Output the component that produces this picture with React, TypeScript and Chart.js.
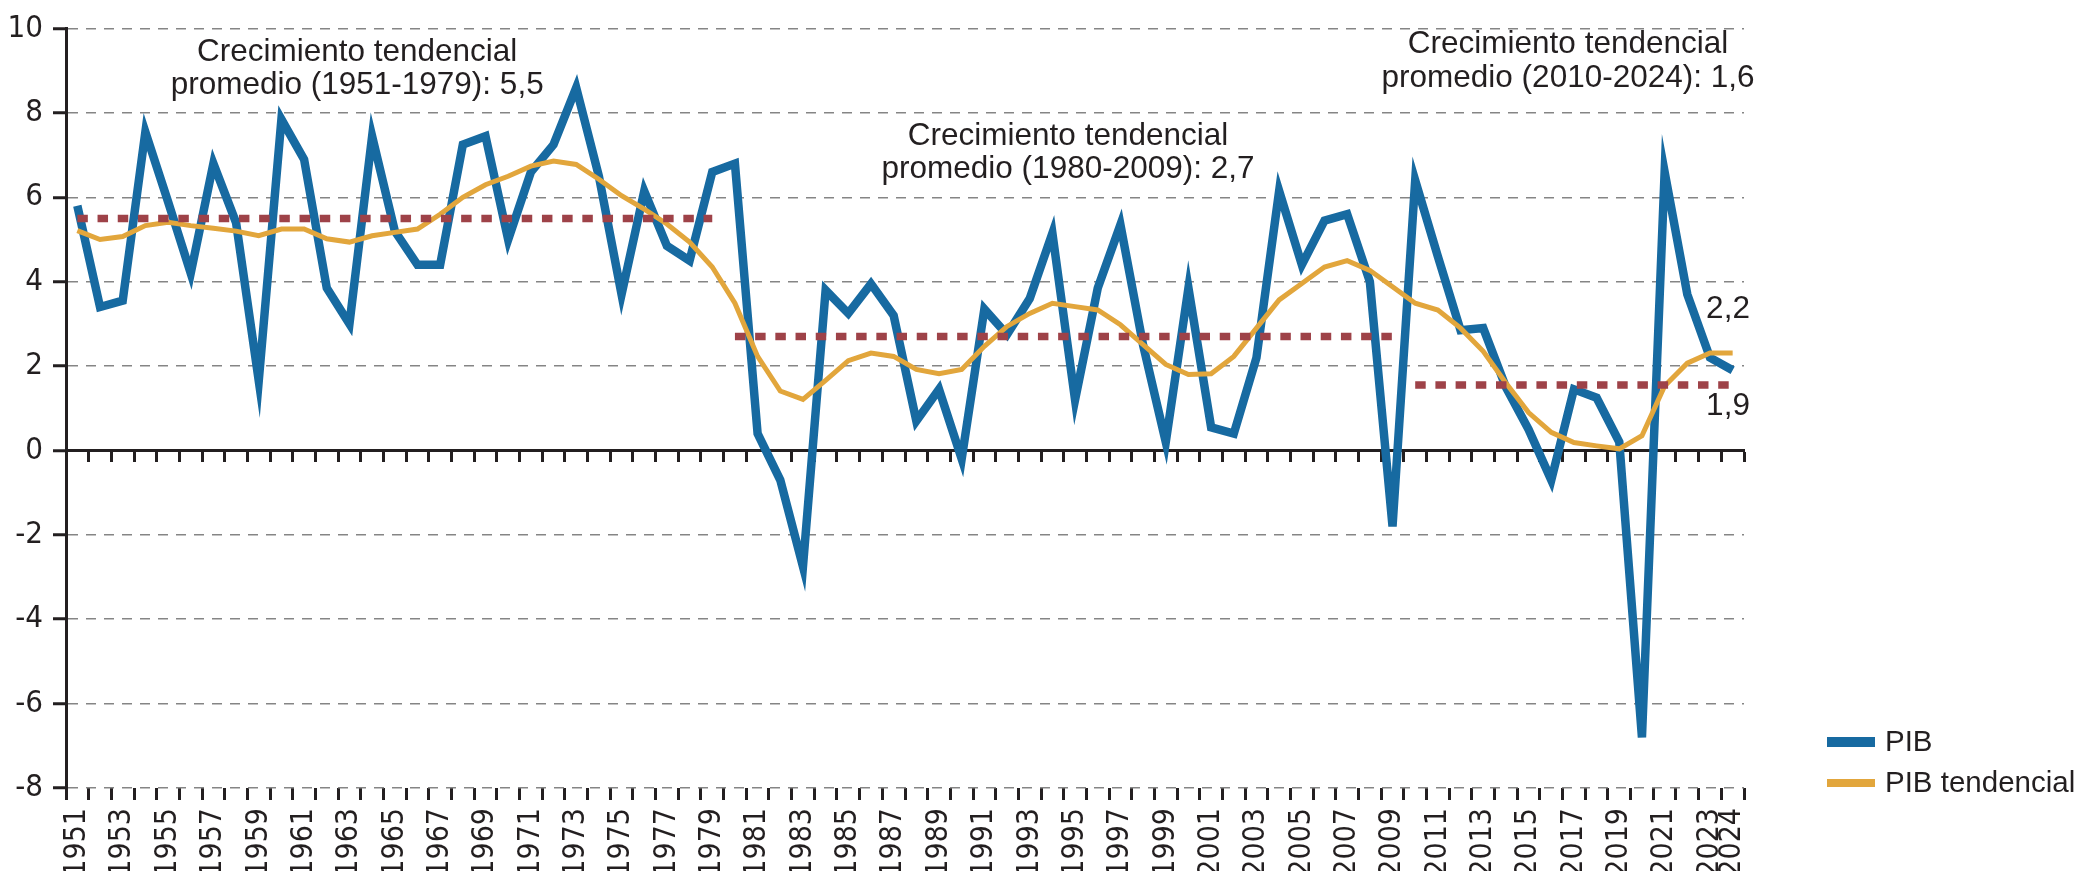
import React, { useEffect, useRef } from 'react';
import { Chart, registerables } from 'chart.js';

Chart.register(...registerables);

// ---------- DATA ----------
const years: number[] = [
  1951, 1952, 1953, 1954, 1955, 1956, 1957, 1958, 1959, 1960,
  1961, 1962, 1963, 1964, 1965, 1966, 1967, 1968, 1969, 1970,
  1971, 1972, 1973, 1974, 1975, 1976, 1977, 1978, 1979, 1980,
  1981, 1982, 1983, 1984, 1985, 1986, 1987, 1988, 1989, 1990,
  1991, 1992, 1993, 1994, 1995, 1996, 1997, 1998, 1999, 2000,
  2001, 2002, 2003, 2004, 2005, 2006, 2007, 2008, 2009, 2010,
  2011, 2012, 2013, 2014, 2015, 2016, 2017, 2018, 2019, 2020,
  2021, 2022, 2023, 2024,
];

const pib: number[] = [
  5.8, 3.4, 3.55, 7.55, 5.9, 4.2, 6.8, 5.4, 1.65, 7.85,
  6.9, 3.85, 3.0, 7.45, 5.2, 4.4, 4.4, 7.25, 7.45, 5.0,
  6.6, 7.25, 8.6, 6.5, 3.7, 6.15, 4.85, 4.5, 6.6, 6.8,
  0.4, -0.7, -2.75, 3.8, 3.25, 3.95, 3.2, 0.7, 1.45, -0.2,
  3.35, 2.75, 3.6, 5.15, 1.2, 3.85, 5.35, 2.5, 0.2, 3.85,
  0.55, 0.4, 2.2, 6.15, 4.4, 5.45, 5.6, 4.0, -1.8, 6.4,
  4.6, 2.85, 2.9, 1.5, 0.5, -0.7, 1.45, 1.25, 0.2, -6.8,
  6.6, 3.7, 2.2, 1.9,
];

const pibTendencial: number[] = [
  5.21, 5.0, 5.07, 5.33, 5.41, 5.33, 5.27, 5.2, 5.09, 5.25,
  5.25, 5.02, 4.94, 5.09, 5.17, 5.25, 5.6, 6.0, 6.3, 6.5,
  6.74, 6.86, 6.78, 6.43, 6.04, 5.72, 5.37, 4.94, 4.35, 3.49,
  2.23, 1.41, 1.21, 1.66, 2.13, 2.31, 2.23, 1.92, 1.82, 1.92,
  2.47, 2.94, 3.25, 3.49, 3.41, 3.33, 2.98, 2.51, 2.04, 1.8,
  1.82, 2.23, 2.9, 3.57, 3.96, 4.35, 4.5, 4.27, 3.88, 3.49,
  3.33, 2.9, 2.35, 1.6, 0.9, 0.43, 0.19, 0.11, 0.04, 0.35,
  1.53, 2.07, 2.31, 2.31,
];

const periodStart: number[] = [1951, 1980, 2010];
const periodEnd: number[] = [1979, 2009, 2024];
const periodAverage: number[] = [5.5, 2.7, 1.55];

const seriesNames: string[] = ['PIB', 'PIB tendencial'];

const annotationLines: string[][] = [
  ['Crecimiento tendencial', 'promedio (1951-1979): 5,5'],
  ['Crecimiento tendencial', 'promedio (1980-2009): 2,7'],
  ['Crecimiento tendencial', 'promedio (2010-2024): 1,6'],
  ['2,2'],
  ['1,9'],
];
// anchor: category index (fractional) and y-values of each baseline
const annotationX: number[] = [12.34, 43.69, 65.74, 73.76, 73.76];
const annotationY: number[][] = [[9.23, 8.45], [7.25, 6.45], [9.42, 8.62], [3.13], [0.83]];
const annotationAlign: CanvasTextAlign[] = ['center', 'center', 'center', 'right', 'right'];

// ---------- STYLE ----------
const INK = '#231f20';
const GRID = '#858585';
const BLUE = '#176aa1';
const GOLD = '#e2a63c';
const RED = '#9e4248';
const NARROW = '"Liberation Sans Narrow", "Arial Narrow", "DejaVu Sans Condensed", sans-serif';
const SANS = '"Liberation Sans", Arial, sans-serif';

const overlayPlugin = {
  id: 'overlay',
  afterDatasetsDraw(chart: any) {
    const { ctx } = chart;
    const xs = chart.scales.x;
    const ys = chart.scales.y;
    ctx.save();
    ctx.fillStyle = INK;
    ctx.font = `31.5px ${SANS}`;
    ctx.textBaseline = 'alphabetic';
    annotationLines.forEach((lines, k) => {
      ctx.textAlign = annotationAlign[k];
      lines.forEach((line, j) => {
        ctx.fillText(line, xs.getPixelForValue(annotationX[k]), ys.getPixelForValue(annotationY[k][j]));
      });
    });

    // legend
    const swX = 1827;
    const swW = 48;
    const rows = [
      { color: BLUE, cy: 742, h: 10 },
      { color: GOLD, cy: 783, h: 8 },
    ];
    ctx.font = `29.5px ${SANS}`;
    ctx.textAlign = 'left';
    ctx.textBaseline = 'middle';
    rows.forEach((r, k) => {
      ctx.fillStyle = r.color;
      ctx.fillRect(swX, r.cy - r.h / 2, swW, r.h);
      ctx.fillStyle = INK;
      ctx.fillText(seriesNames[k], swX + swW + 10, r.cy + 1);
    });
    ctx.restore();
  },
};

function periodSeries(k: number): (number | null)[] {
  return years.map((yr) => (yr >= periodStart[k] && yr <= periodEnd[k] ? periodAverage[k] : null));
}

export default function App() {
  const canvasRef = useRef<HTMLCanvasElement | null>(null);

  useEffect(() => {
    const canvas = canvasRef.current;
    if (!canvas) return;

    const dotted = periodStart.map((_, k) => ({
      label: `prom${k}`,
      data: periodSeries(k),
      borderColor: RED,
      backgroundColor: RED,
      borderWidth: 7.5,
      borderDash: [10.5, 9.7],
      borderCapStyle: 'butt' as const,
      pointRadius: 0,
      spanGaps: false,
      tension: 0,
      order: 0,
    }));

    const chart = new Chart(canvas, {
      type: 'line',
      data: {
        labels: years.map(String),
        datasets: [
          ...dotted,
          {
            label: seriesNames[1],
            data: pibTendencial,
            borderColor: GOLD,
            backgroundColor: GOLD,
            borderWidth: 5,
            pointRadius: 0,
            tension: 0,
            order: 1,
          },
          {
            label: seriesNames[0],
            data: pib,
            borderColor: BLUE,
            backgroundColor: BLUE,
            borderWidth: 8.5,
            borderJoinStyle: 'miter',
            pointRadius: 0,
            tension: 0,
            order: 2,
          },
        ],
      },
      options: {
        responsive: false,
        maintainAspectRatio: false,
        animation: false,
        events: [],
        layout: { padding: { top: 23, right: 356, left: 0, bottom: 0 } },
        plugins: {
          legend: { display: false },
          tooltip: { enabled: false },
          title: { display: false },
        },
        scales: {
          x: {
            type: 'category',
            position: 'bottom',
            offset: true,
            grid: {
              display: true,
              drawOnChartArea: false,
              drawTicks: true,
              tickLength: 12,
              tickWidth: 3,
              tickColor: INK,
              color: INK,
              offset: true,
            },
            border: { display: false },
            ticks: {
              autoSkip: false,
              minRotation: 90,
              maxRotation: 90,
              padding: 8,
              color: INK,
              font: { family: NARROW, size: 30 },
              callback: (_v: any, idx: number) => {
                const yr = years[idx];
                return yr % 2 === 1 || idx === years.length - 1 ? String(yr) : '';
              },
            },
            afterFit: (s: any) => {
              s.height = 83;
            },
          },
          xZero: {
            type: 'category',
            axis: 'x',
            position: { y: 0 },
            offset: true,
            grid: {
              display: true,
              drawOnChartArea: false,
              drawTicks: true,
              tickLength: 10,
              tickWidth: 3,
              tickColor: INK,
              color: INK,
              offset: true,
            },
            border: { display: true, color: INK, width: 3 },
            ticks: { display: false },
          },
          y: {
            type: 'linear',
            position: 'left',
            min: -8,
            max: 10,
            ticks: {
              stepSize: 2,
              padding: 10,
              color: INK,
              font: { family: NARROW, size: 31 },
            },
            grid: {
              display: true,
              drawOnChartArea: true,
              drawTicks: true,
              tickLength: 13,
              tickWidth: 3,
              tickColor: INK,
              lineWidth: 1.5,
              color: (c: any) => (c.tick && c.tick.value === 0 ? 'rgba(0,0,0,0)' : GRID),
            },
            border: { display: true, color: INK, width: 3, dash: [10, 8] },
            afterFit: (s: any) => {
              s.width = 66;
            },
          },
        } as any,
      },
      plugins: [overlayPlugin],
    } as any);

    return () => {
      chart.destroy();
    };
  }, []);

  return (
    <div style={{ position: 'absolute', left: 0, top: 0, width: 2100, height: 871, background: '#ffffff' }}>
      <canvas ref={canvasRef} width={2100} height={871} style={{ display: 'block', width: 2100, height: 871 }} />
    </div>
  );
}
